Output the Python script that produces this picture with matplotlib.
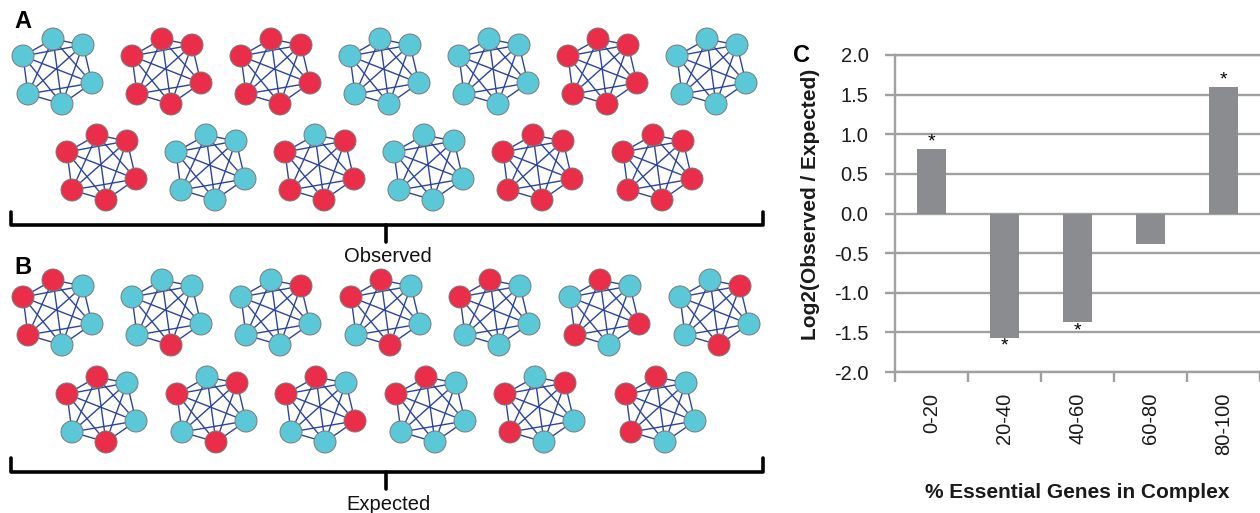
import matplotlib
matplotlib.use("Agg")
import matplotlib.pyplot as plt
from matplotlib.patches import Circle
from matplotlib.lines import Line2D
import numpy as np

plt.rcParams['font.family'] = ['Liberation Sans', 'DejaVu Sans']

# ---------------- Panel C data ----------------
categories = ["0-20", "20-40", "40-60", "60-80", "80-100"]
log2_ratio = [0.82, -1.57, -1.37, -0.39, 1.60]
significant = [True, True, True, False, True]
yticks = [-2.0, -1.5, -1.0, -0.5, 0.0, 0.5, 1.0, 1.5, 2.0]

# ---------------- Panels A/B data ----------------
# Each complex: 6 nodes, order = left, top, upper-right, right, bottom, lower-left
# R = essential (red), B = non-essential (blue)
observed_row1 = ["BBBBBB", "RRRRRR", "RRRRRR", "BBBBBB", "BBBBBB", "RRRRRR", "BBBBBB"]
observed_row2 = ["RRRRRR", "BBBBBB", "RBRRRR", "BBBBBB", "RRRRRR", "RRRRRR"]
expected_row1 = ["RRBBBR", "BBBBRB", "BBRBBB", "RRBBRB", "RRBBBB", "BRBRBR", "BBRBRB"]
expected_row2 = ["RRBBRB", "RBRBRB", "RRBRBB", "RRBBBB", "RBRBBR", "RRBBBR"]
bracket_labels = ["Observed", "Expected"]
panel_letters = ["A", "B", "C"]

RED = "#ea2d48"
BLUE = "#5bc8d8"
EDGE = "#2b44a0"

W, H = 1260, 513
fig = plt.figure(figsize=(12.6, 5.13), dpi=100)
fig.patch.set_facecolor("white")

# ---- network drawing canvas in pixel coordinates ----
axn = fig.add_axes([0, 0, 1, 1])
axn.set_xlim(0, W)
axn.set_ylim(H, 0)
axn.axis("off")

node_dx = [-34, -4, 26, 35, 5, -29]
node_dy = [-16, -33, -27, 11, 32, 22]
node_r = 11

rows = [
    (observed_row1, [57, 166, 275, 384, 493, 602, 711], 72),
    (observed_row2, [101, 210, 319, 428, 537, 657], 168),
    (expected_row1, [57, 166, 275, 385, 494, 604, 714], 313),
    (expected_row2, [101, 211, 320, 430, 539, 660], 410),
]

for complexes, xs, yc in rows:
    for code, xc in zip(complexes, xs):
        px = [xc + d for d in node_dx]
        py = [yc + d for d in node_dy]
        for i in range(6):
            for j in range(i + 1, 6):
                axn.add_line(Line2D([px[i], px[j]], [py[i], py[j]], color=EDGE,
                                    lw=1.0, zorder=1))
        for k in range(6):
            col = RED if code[k] == "R" else BLUE
            axn.add_patch(Circle((px[k], py[k]), node_r, facecolor=col,
                                 edgecolor="#7a7a7a", lw=0.7, zorder=2))

# ---- brackets ----
def bracket(x0, x1, xm, ytop, ybar, ytip, label, ytext):
    axn.add_line(Line2D([x0, x0, x1, x1], [ytop, ybar, ybar, ytop], color="black",
                        lw=2.6, solid_joinstyle="round", solid_capstyle="round", zorder=3))
    axn.add_line(Line2D([xm, xm], [ybar, ytip], color="black", lw=2.6,
                        solid_capstyle="round", zorder=3))
    axn.text(xm + 2, ytext, label, ha="center", va="center", fontsize=14.5, color="#111111")

bracket(11, 763, 386, 212, 225, 242, bracket_labels[0], 256)
bracket(11, 763, 386, 458, 472, 489, bracket_labels[1], 504)

axn.text(23, 22, panel_letters[0], ha="center", va="center", fontsize=17, fontweight="bold")
axn.text(23, 268, panel_letters[1], ha="center", va="center", fontsize=17, fontweight="bold")
axn.text(802, 56, panel_letters[2], ha="center", va="center", fontsize=17, fontweight="bold")

# ---------------- Panel C bar chart ----------------
GRID = "#a0a0a0"
ax = fig.add_axes([895 / W, 1 - 372 / H, 365 / W, 317 / H])
x = np.arange(len(categories)) + 0.5
ax.bar(x, log2_ratio, width=0.4, color="#8a8c8f", zorder=3)
ax.set_xlim(0, len(categories))
ax.set_ylim(-2, 2)
ax.set_yticks(yticks)
ax.set_yticklabels([f"{v:.1f}" for v in yticks])
ax.yaxis.grid(True, color=GRID, lw=1.7)
ax.set_axisbelow(True)
ax.spines["right"].set_visible(False)
for s in ["left", "top", "bottom"]:
    ax.spines[s].set_color(GRID)
    ax.spines[s].set_linewidth(1.7)

ax.set_xticks(np.arange(len(categories) + 1))
ax.set_xticklabels([])
ax.set_xticks(x, minor=True)
ax.set_xticklabels(categories, minor=True, rotation=90, va="top", ha="center")
ax.tick_params(axis="x", which="major", direction="out", length=7, width=1.7, color=GRID)
ax.tick_params(axis="x", which="minor", length=0, pad=15, labelsize=14.5, labelcolor="#1a1a1a")
ax.tick_params(axis="y", direction="out", length=7, width=1.7, color=GRID, pad=12,
               labelsize=14.5, labelcolor="#1a1a1a")

for xi, v, sig in zip(x, log2_ratio, significant):
    if sig:
        if v > 0:
            ax.annotate("*", xy=(xi, v), xytext=(0, -1.5), textcoords="offset points",
                        ha="center", va="bottom", fontsize=14, zorder=4)
        else:
            ax.annotate("*", xy=(xi, v), xytext=(0, 0), textcoords="offset points",
                        ha="center", va="top", fontsize=14, zorder=4)

fig.text(810 / W, 1 - 204 / H, "Log2(Observed / Expected)", rotation=90, ha="center",
         va="center", fontsize=15, fontweight="bold", color="#1a1a1a")
fig.text(1077 / W, 1 - 492 / H, "% Essential Genes in Complex", ha="center", va="center",
         fontsize=15, fontweight="bold", color="#1a1a1a")

fig.savefig("out.png", dpi=100)
